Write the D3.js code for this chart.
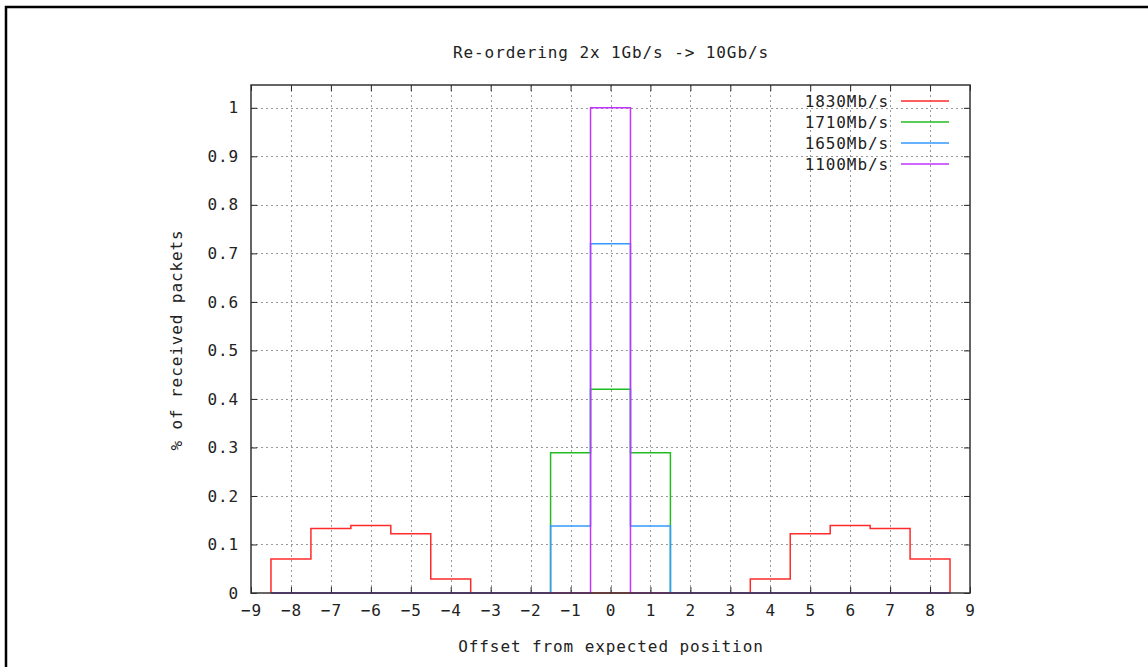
<!DOCTYPE html>
<html lang="en">
<head>
<meta charset="UTF-8">
<script src="https://d3js.org/d3.v7.min.js"></script>
<style>
  body { margin: 0; background: #fff; }
  text { font-family: "DejaVu Sans Mono", monospace; font-size: 16px; letter-spacing: 0.9px; fill: #222; }
</style>
</head>
<body>
<script>
// offsets from expected position (bin centres)
const offsets = [-8, -7, -6, -5, -4, -3, -2, -1, 0, 1, 2, 3, 4, 5, 6, 7, 8];

// fraction of received packets per rate
const rate1830 = [0.070, 0.133, 0.139, 0.122, 0.029, 0, 0, 0, 0, 0, 0, 0, 0.029, 0.122, 0.139, 0.133, 0.070];
const rate1710 = [0, 0, 0, 0, 0, 0, 0, 0.289, 0.42, 0.289, 0, 0, 0, 0, 0, 0, 0];
const rate1650 = [0, 0, 0, 0, 0, 0, 0, 0.138, 0.72, 0.138, 0, 0, 0, 0, 0, 0, 0];
const rate1100 = [0, 0, 0, 0, 0, 0, 0, 0, 1.0, 0, 0, 0, 0, 0, 0, 0, 0];

const seriesNames = ["1830Mb/s", "1710Mb/s", "1650Mb/s", "1100Mb/s"];
const seriesColors = ["#ff2a2a", "#22bb22", "#3399ff", "#c233ff"];
const seriesValues = [rate1830, rate1710, rate1650, rate1100];

const xTicks = d3.range(-9, 10, 1);
const yTicks = [0, 0.1, 0.2, 0.3, 0.4, 0.5, 0.6, 0.7, 0.8, 0.9, 1];

const W = 1148, H = 667;
const pLeft = 251, pRight = 970, pTop = 85, pBottom = 593;

const svg = d3.select("body").append("svg")
  .attr("width", W).attr("height", H);

// outer frame
svg.append("rect")
  .attr("x", 6).attr("y", 7)
  .attr("width", W + 20).attr("height", H + 20)
  .attr("fill", "none").attr("stroke", "#000").attr("stroke-width", 2.5);

const x = d3.scaleLinear().domain([-9, 9]).range([pLeft, pRight]);
const y = d3.scaleLinear().domain([0, 1.047]).range([pBottom, pTop]);

// grid
const grid = svg.append("g").attr("stroke", "#999").attr("stroke-dasharray", "2,3").attr("stroke-width", 1);
grid.selectAll(".gx").data(xTicks.slice(1, -1)).join("line")
  .attr("x1", d => Math.round(x(d)) + 0.5).attr("x2", d => Math.round(x(d)) + 0.5)
  .attr("y1", pTop).attr("y2", pBottom);
grid.selectAll(".gy").data(yTicks.slice(1)).join("line")
  .attr("y1", d => Math.round(y(d)) + 0.5).attr("y2", d => Math.round(y(d)) + 0.5)
  .attr("x1", pLeft).attr("x2", pRight);

// step lines (histeps)
function stepPath(vals) {
  const pts = [];
  offsets.forEach((o, i) => {
    pts.push([x(o - 0.5), y(vals[i])]);
    pts.push([x(o + 0.5), y(vals[i])]);
  });
  pts.unshift([x(offsets[0] - 0.5), y(0)]);
  pts.push([x(offsets[offsets.length - 1] + 0.5), y(0)]);
  return d3.line()(pts);
}

seriesValues.forEach((vals, i) => {
  svg.append("path")
    .attr("d", stepPath(vals))
    .attr("fill", "none")
    .attr("stroke", seriesColors[i])
    .attr("stroke-width", 1.5);
});

// axes (ticks inward, mirrored)
const tickLen = 6;
const xAxisB = d3.axisBottom(x).tickValues(xTicks).tickSize(-tickLen).tickPadding(12).tickFormat(d3.format("d"));
const xAxisT = d3.axisTop(x).tickValues(xTicks).tickSize(-tickLen).tickFormat("");
const yAxisL = d3.axisLeft(y).tickValues(yTicks).tickSize(-tickLen).tickPadding(12).tickFormat(d => d === 0 || d === 1 ? d : d3.format(".1f")(d));
const yAxisR = d3.axisRight(y).tickValues(yTicks).tickSize(-tickLen).tickFormat("");

function styleAxis(g) {
  g.select(".domain").remove();
  g.selectAll(".tick line").attr("stroke", "#222");
  g.selectAll(".tick text").attr("fill", "#222")
    .style("font-family", "DejaVu Sans Mono, monospace").style("font-size", "16px");
}

svg.append("g").attr("transform", `translate(0,${pBottom})`).call(xAxisB).call(styleAxis)
  .selectAll(".tick text").text(d => d < 0 ? "\u2212" + Math.abs(d) : d);
svg.append("g").attr("transform", `translate(0,${pTop})`).call(xAxisT).call(styleAxis);
svg.append("g").attr("transform", `translate(${pLeft},0)`).call(yAxisL).call(styleAxis);
svg.append("g").attr("transform", `translate(${pRight},0)`).call(yAxisR).call(styleAxis);

// plot border
svg.append("rect")
  .attr("x", pLeft).attr("y", pTop)
  .attr("width", pRight - pLeft).attr("height", pBottom - pTop)
  .attr("fill", "none").attr("stroke", "#333").attr("stroke-width", 1.5);

// titles
svg.append("text").attr("x", 611).attr("y", 58).attr("text-anchor", "middle")
  .text("Re-ordering 2x 1Gb/s -> 10Gb/s");
svg.append("text").attr("x", 611).attr("y", 652).attr("text-anchor", "middle")
  .text("Offset from expected position");
svg.append("text").attr("transform", "translate(182,340) rotate(-90)").attr("text-anchor", "middle")
  .text("% of received packets");

// legend
const legend = svg.append("g");
seriesNames.forEach((name, i) => {
  const ly = 101 + i * 21;
  legend.append("text").attr("x", 889).attr("y", ly).attr("dy", "0.35em")
    .attr("text-anchor", "end").text(name);
  legend.append("line").attr("x1", 901).attr("x2", 949)
    .attr("y1", ly).attr("y2", ly)
    .attr("stroke", seriesColors[i]).attr("stroke-width", 1.5);
});
</script>
</body>
</html>
